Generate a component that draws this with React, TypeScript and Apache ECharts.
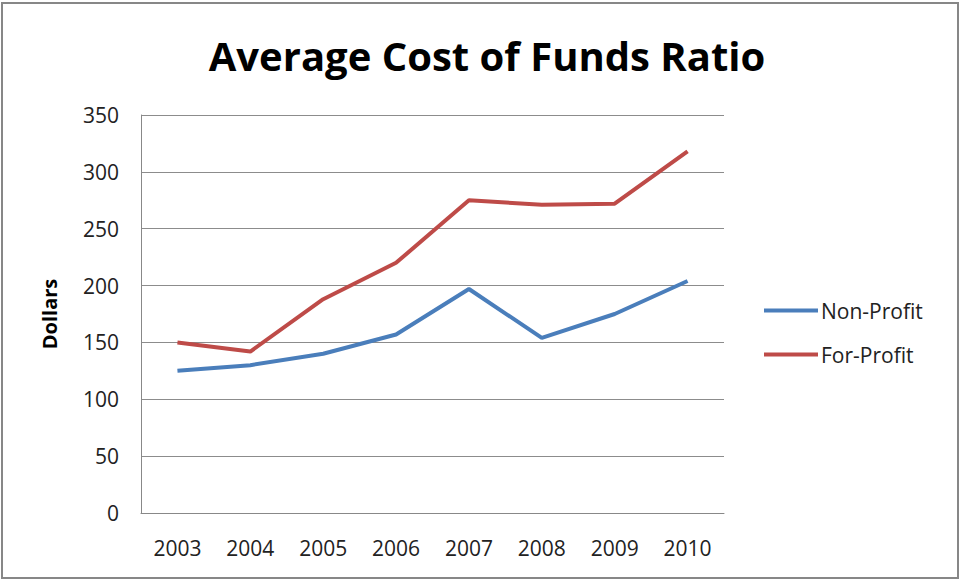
import React, { useEffect, useRef } from "react";
import * as echarts from "echarts";

const years = ["2003", "2004", "2005", "2006", "2007", "2008", "2009", "2010"];
const nonProfit = [125, 130, 140, 157, 197, 154, 175, 204];
const forProfit = [150, 142, 188, 220, 275, 271, 272, 318];
const seriesNames = ["Non-Profit", "For-Profit"];

export default function App() {
  const ref = useRef<HTMLDivElement>(null);
  useEffect(() => {
    if (!ref.current) return;
    const chart = echarts.init(ref.current, null, { renderer: "svg" });
    const font = "'Open Sans', 'Liberation Sans', sans-serif";
    chart.setOption({
      animation: false,
      backgroundColor: "#ffffff",
      title: {
        text: "Average Cost of Funds Ratio",
        left: 482,
        textAlign: "center",
        top: 30,
        textStyle: { fontFamily: font, fontSize: 40, fontWeight: "bold", color: "#000" },
      },
      graphic: [
        {
          type: "rect",
          shape: { x: 2, y: 3, width: 956, height: 575 },
          style: { fill: "none", stroke: "#878787", lineWidth: 2 },
        },
      ],
      legend: {
        orient: "vertical",
        left: 764,
        top: 300,
        padding: 0,
        itemWidth: 54,
        itemHeight: 4,
        itemGap: 23,
        icon: "rect",
        textStyle: { fontFamily: font, fontSize: 21, color: "#222", padding: [0, 0, 0, -2] },
        data: seriesNames,
      },
      grid: { left: 141, right: 237, top: 115, bottom: 68 },
      xAxis: {
        type: "category",
        data: years,
        boundaryGap: true,
        axisLine: { lineStyle: { color: "#888", width: 1 } },
        axisTick: { show: false },
        axisLabel: { fontFamily: font, fontSize: 21, color: "#222", margin: 24 },
      },
      yAxis: {
        type: "value",
        name: "Dollars",
        nameLocation: "middle",
        nameGap: 82,
        nameTextStyle: { fontFamily: font, fontSize: 20, fontWeight: "bold", color: "#000" },
        min: 0,
        max: 350,
        interval: 50,
        axisLine: { show: true, lineStyle: { color: "#888", width: 1 } },
        axisTick: { show: false },
        axisLabel: { fontFamily: font, fontSize: 21, color: "#222", margin: 22 },
        splitLine: { lineStyle: { color: "#8c8c8c", width: 1 } },
      },
      series: [
        {
          name: seriesNames[0],
          type: "line",
          data: nonProfit,
          showSymbol: false,
          symbol: "none",
          lineStyle: { color: "#4a7ebb", width: 4 },
          itemStyle: { color: "#4a7ebb" },
        },
        {
          name: seriesNames[1],
          type: "line",
          data: forProfit,
          showSymbol: false,
          symbol: "none",
          lineStyle: { color: "#be4b48", width: 4 },
          itemStyle: { color: "#be4b48" },
        },
      ],
    });
    return () => chart.dispose();
  }, []);
  return (
    <div
      ref={ref}
      style={{ position: "fixed", left: 0, top: 0, width: 961, height: 581 }}
    />
  );
}
